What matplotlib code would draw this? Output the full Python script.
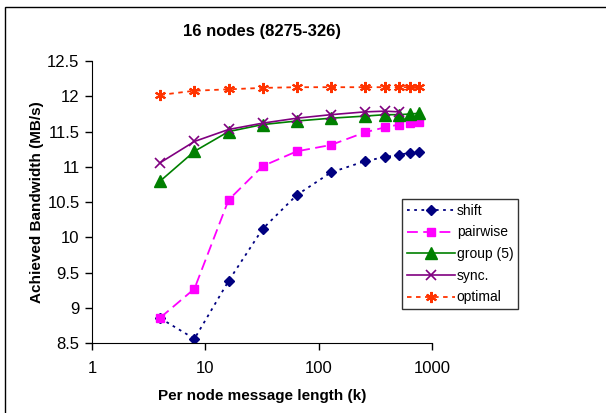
import numpy as np
import matplotlib
matplotlib.use("Agg")
import matplotlib.pyplot as plt
from matplotlib.patches import Rectangle

plt.rcParams["font.family"] = ["Liberation Sans", "DejaVu Sans"]
plt.rcParams["font.size"] = 12

# message length (k) and achieved bandwidth (MB/s) per scheme
msg_len = [4, 8, 16, 32, 64, 128, 256, 384, 512, 640, 768]
shift = [8.85, 8.56, 9.38, 10.12, 10.60, 10.92, 11.08, 11.14, 11.17, 11.20, 11.21]
pairwise = [8.86, 9.27, 10.53, 11.01, 11.22, 11.31, 11.49, 11.56, 11.60, 11.62, 11.63]
group5 = [10.80, 11.22, 11.50, 11.60, 11.65, 11.69, 11.72, 11.74, 11.74, 11.75, 11.76]
sync_len = [4, 8, 16, 32, 64, 128, 256, 384, 512]
sync = [11.06, 11.36, 11.53, 11.62, 11.69, 11.74, 11.78, 11.79, 11.78]
optimal = [12.02, 12.08, 12.10, 12.12, 12.13, 12.13, 12.13, 12.13, 12.13, 12.13, 12.13]

fig = plt.figure(figsize=(6.06, 4.13), dpi=100)
ax = fig.add_axes([0.152, 0.1695, 0.561, 0.6825])

# outer chart border
fig.patches.append(Rectangle((5 / 606, -0.01), 1.0, 1 - 7 / 413 + 0.01,
                             transform=fig.transFigure, fill=False,
                             edgecolor="black", linewidth=1.0))

ax.plot(msg_len, shift, color="#000080", linestyle=(0, (1.5, 2.5)), linewidth=1.3,
        marker="D", markersize=5.5, label="shift")
ax.plot(msg_len, pairwise, color="#FF00FF", linestyle=(0, (6, 3)), linewidth=1.3,
        marker="s", markersize=6, label="pairwise")
ax.plot(msg_len, group5, color="#008000", linestyle="-", linewidth=1.2,
        marker="^", markersize=8, label="group (5)")
ax.plot(sync_len, sync, color="#800080", linestyle="-", linewidth=1.2,
        marker="x", markersize=7.5, markeredgewidth=1.2, label="sync.")
ax.plot(msg_len, optimal, color="#FF3300", linestyle=(0, (2.5, 2.5)), linewidth=1.3,
        marker=(6, 2, 0), markersize=8, markeredgewidth=1.5, label="optimal")

ax.set_xscale("log")
ax.set_xlim(1, 1000)
ax.set_ylim(8.5, 12.5)
ax.set_xticks([1, 10, 100, 1000])
ax.set_xticklabels(["1", "10", "100", "1000"])
ax.xaxis.set_minor_locator(matplotlib.ticker.NullLocator())
ax.set_yticks(np.arange(8.5, 12.51, 0.5))
ax.set_yticklabels(["8.5", "9", "9.5", "10", "10.5", "11", "11.5", "12", "12.5"])
ax.tick_params(axis="x", direction="out", length=5, width=1, pad=8)
ax.tick_params(axis="y", direction="out", length=5, width=1, pad=4)
ax.spines["top"].set_visible(False)
ax.spines["right"].set_visible(False)

ax.set_title("16 nodes (8275-326)", fontsize=12, fontweight="bold", pad=18)
ax.set_xlabel("Per node message length (k)", fontsize=11, fontweight="bold", labelpad=9)
ax.set_ylabel("Achieved Bandwidth (MB/s)", fontsize=11, fontweight="bold", labelpad=2)

leg = ax.legend(loc="upper left", bbox_to_anchor=(402 / 606, 1 - 199 / 413),
                bbox_transform=fig.transFigure, frameon=True, fancybox=False,
                handlelength=3.5, handletextpad=0.1, borderpad=0.35,
                labelspacing=0.55, fontsize=10, borderaxespad=0)
leg.get_frame().set_edgecolor("black")
leg.get_frame().set_linewidth(1.0)

fig.savefig("out.png", dpi=100)
